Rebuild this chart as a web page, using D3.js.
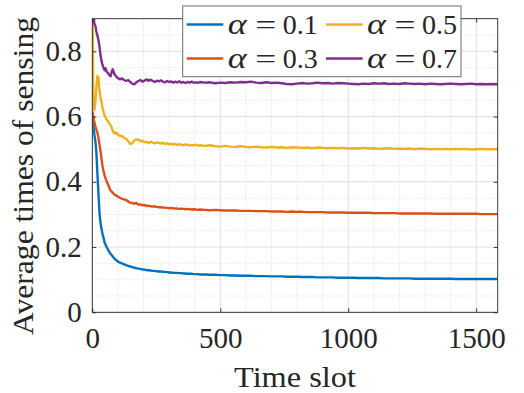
<!DOCTYPE html>
<html>
<head>
<meta charset="utf-8">
<script src="https://cdn.jsdelivr.net/npm/d3@7"></script>
<style>
  body { margin: 0; background: #fff; }
  svg { display: block; }
  text { font-family: "Liberation Serif", "DejaVu Serif", serif; fill: #262626; }
</style>
</head>
<body>
<div id="chart"></div>
<script>
// time slots where the curves were sampled (denser at the start)
var slots = [1].concat(d3.range(4, 101, 4), d3.range(108, 421, 8), d3.range(440, 1581, 20), [1584]);

var alpha01 = [
  0.60, 0.57, 0.545, 0.525, 0.49, 0.425, 0.365, 0.305, 0.275, 0.255,
  0.24, 0.228, 0.214, 0.207, 0.2, 0.194, 0.188, 0.183, 0.178, 0.175,
  0.171, 0.167, 0.164, 0.161, 0.158, 0.156,
  0.152, 0.15, 0.147, 0.145, 0.142, 0.141, 0.138, 0.137, 0.135, 0.134,
  0.133, 0.131, 0.131, 0.129, 0.129, 0.128, 0.127, 0.127, 0.126, 0.125,
  0.125, 0.124, 0.124, 0.123, 0.122, 0.122, 0.121, 0.121, 0.121, 0.12,
  0.12, 0.119, 0.119, 0.118, 0.118, 0.118, 0.117, 0.117, 0.117, 0.116,
  0.116, 0.115, 0.115, 0.114, 0.114, 0.113, 0.113, 0.112, 0.112, 0.112,
  0.111, 0.111, 0.111, 0.11, 0.11, 0.11, 0.109, 0.109, 0.109, 0.108,
  0.108, 0.108, 0.107, 0.107, 0.107, 0.107, 0.106, 0.106, 0.106, 0.106,
  0.105, 0.105, 0.105, 0.105, 0.105, 0.104, 0.104, 0.104, 0.104, 0.104,
  0.104, 0.103, 0.103, 0.103, 0.103, 0.103, 0.103, 0.103, 0.103, 0.102,
  0.102, 0.102, 0.102, 0.102, 0.102, 0.102, 0.102, 0.102, 0.102];

var alpha03 = [
  0.615, 0.6, 0.583, 0.57, 0.56, 0.55, 0.535, 0.515, 0.495, 0.47,
  0.448, 0.432, 0.42, 0.41, 0.402, 0.395, 0.387, 0.378, 0.373, 0.37,
  0.366, 0.363, 0.36, 0.359, 0.356, 0.355,
  0.351, 0.348, 0.346, 0.344, 0.34, 0.336, 0.335, 0.333, 0.335, 0.33,
  0.331, 0.328, 0.329, 0.326, 0.327, 0.325, 0.324, 0.325, 0.323, 0.322,
  0.322, 0.321, 0.321, 0.32, 0.319, 0.32, 0.319, 0.318, 0.318, 0.317,
  0.318, 0.317, 0.316, 0.317, 0.316, 0.315, 0.316, 0.315, 0.314, 0.315,
  0.314, 0.313, 0.314, 0.313, 0.312, 0.312, 0.312, 0.311, 0.311, 0.311,
  0.31, 0.31, 0.31, 0.309, 0.309, 0.309, 0.308, 0.309, 0.308, 0.308,
  0.307, 0.307, 0.307, 0.307, 0.306, 0.306, 0.306, 0.306, 0.305, 0.305,
  0.305, 0.305, 0.305, 0.304, 0.304, 0.304, 0.304, 0.304, 0.303, 0.303,
  0.303, 0.303, 0.303, 0.303, 0.303, 0.302, 0.302, 0.302, 0.302, 0.302,
  0.302, 0.302, 0.302, 0.302, 0.301, 0.301, 0.301, 0.301, 0.301];

var alpha05 = [
  0.95, 0.66, 0.62, 0.645, 0.69, 0.725, 0.72, 0.68, 0.66, 0.645,
  0.625, 0.615, 0.602, 0.598, 0.59, 0.588, 0.582, 0.578, 0.572, 0.566,
  0.556, 0.55, 0.552, 0.547, 0.55, 0.545,
  0.54, 0.541, 0.535, 0.532, 0.525, 0.516, 0.518, 0.527, 0.529, 0.53,
  0.524, 0.526, 0.521, 0.523, 0.519, 0.523, 0.52, 0.518, 0.521, 0.519,
  0.517, 0.52, 0.516, 0.518, 0.515, 0.517, 0.514, 0.516, 0.513, 0.515,
  0.514, 0.512, 0.515, 0.513, 0.511, 0.513, 0.512, 0.514, 0.511, 0.512,
  0.51, 0.512, 0.509, 0.508, 0.51, 0.508, 0.507, 0.509, 0.507, 0.506,
  0.508, 0.506, 0.505, 0.507, 0.505, 0.506, 0.504, 0.506, 0.505, 0.504,
  0.505, 0.503, 0.505, 0.504, 0.503, 0.504, 0.503, 0.504, 0.502, 0.503,
  0.502, 0.504, 0.502, 0.503, 0.501, 0.502, 0.503, 0.501, 0.502, 0.501,
  0.502, 0.5, 0.502, 0.501, 0.5, 0.501, 0.5, 0.501, 0.5, 0.501,
  0.5, 0.501, 0.499, 0.5, 0.501, 0.5, 0.5, 0.5, 0.5];

var alpha07 = [
  0.96, 0.92, 0.885, 0.878, 0.86, 0.848, 0.835, 0.815, 0.79, 0.77,
  0.758, 0.75, 0.742, 0.748, 0.738, 0.735, 0.73, 0.726, 0.724, 0.738,
  0.745, 0.736, 0.728, 0.725, 0.72, 0.718,
  0.714, 0.717, 0.712, 0.709, 0.712, 0.706, 0.701, 0.699, 0.705, 0.709,
  0.712, 0.707, 0.71, 0.714, 0.71, 0.713, 0.709, 0.706, 0.71, 0.708,
  0.711, 0.707, 0.705, 0.709, 0.706, 0.708, 0.704, 0.707, 0.705, 0.708,
  0.704, 0.706, 0.703, 0.706, 0.704, 0.707, 0.704, 0.705, 0.703, 0.706,
  0.704, 0.705, 0.702, 0.704, 0.703, 0.705, 0.704, 0.706, 0.705, 0.707,
  0.704, 0.703, 0.705, 0.703, 0.704, 0.702, 0.7, 0.699, 0.701, 0.703,
  0.701, 0.702, 0.704, 0.702, 0.703, 0.701, 0.703, 0.702, 0.701, 0.7,
  0.699, 0.701, 0.7, 0.702, 0.701, 0.702, 0.7, 0.701, 0.7, 0.702,
  0.701, 0.7, 0.701, 0.699, 0.701, 0.7, 0.699, 0.7, 0.701, 0.7,
  0.699, 0.7, 0.701, 0.699, 0.7, 0.699, 0.7, 0.699, 0.699];

var alphaLabels = ["0.1", "0.3", "0.5", "0.7"];
var xTicks = [0, 500, 1000, 1500];
var yTicks = [0, 0.2, 0.4, 0.6, 0.8];

var series = [alpha01, alpha03, alpha05, alpha07];
var colors = ["#0072BD", "#D95319", "#EDB120", "#7E2F8E"];

var W = 524, H = 393;
var pLeft = 92.3, pRight = 497.7, pTop = 18.7, pBottom = 312.3;

var svg = d3.select("#chart").append("svg")
    .attr("width", W)
    .attr("height", H);

var x = d3.scaleLinear().domain([0, 1584]).range([pLeft, pRight]);
var y = d3.scaleLinear().domain([0, 0.9]).range([pBottom, pTop]);

// grid, minor first
var minorX = d3.range(100, 1584, 100).filter(function(v) { return v % 500 != 0; });
var minorY = d3.range(0.05, 0.9, 0.05).filter(function(v) { return Math.abs(v * 5 - Math.round(v * 5)) > 0.01; });

var grid = svg.append("g");
grid.selectAll(".mx").data(minorX).enter().append("line")
    .attr("x1", function(d) { return x(d); }).attr("x2", function(d) { return x(d); })
    .attr("y1", pTop).attr("y2", pBottom)
    .attr("stroke", "#cfcfcf").attr("stroke-width", 0.8).attr("stroke-dasharray", "1,2");
grid.selectAll(".my").data(minorY).enter().append("line")
    .attr("y1", function(d) { return y(d); }).attr("y2", function(d) { return y(d); })
    .attr("x1", pLeft).attr("x2", pRight)
    .attr("stroke", "#cfcfcf").attr("stroke-width", 0.8).attr("stroke-dasharray", "1,2");
grid.selectAll(".gx").data(xTicks).enter().append("line")
    .attr("x1", function(d) { return x(d); }).attr("x2", function(d) { return x(d); })
    .attr("y1", pTop).attr("y2", pBottom)
    .attr("stroke", "#dfdfdf").attr("stroke-width", 1);
grid.selectAll(".gy").data(yTicks).enter().append("line")
    .attr("y1", function(d) { return y(d); }).attr("y2", function(d) { return y(d); })
    .attr("x1", pLeft).attr("x2", pRight)
    .attr("stroke", "#dfdfdf").attr("stroke-width", 1);

// curves
svg.append("clipPath").attr("id", "plotclip")
  .append("rect").attr("x", pLeft).attr("y", pTop).attr("width", pRight - pLeft).attr("height", pBottom - pTop);

var line = d3.line()
    .x(function(d, i) { return x(slots[i]); })
    .y(function(d) { return y(d); });

svg.append("g").attr("clip-path", "url(#plotclip)")
  .selectAll("path").data(series).enter().append("path")
    .attr("d", line)
    .attr("fill", "none")
    .attr("stroke", function(d, i) { return colors[i]; })
    .attr("stroke-width", 2.4)
    .attr("stroke-linejoin", "round");

// axes, ticks point inward
var axisBottom = d3.axisBottom(x).tickValues(xTicks).tickSizeInner(-4).tickSizeOuter(0).tickFormat(d3.format("d"));
var gxb = svg.append("g").attr("transform", "translate(0," + pBottom + ")").call(axisBottom);
gxb.selectAll("text").attr("y", 36).attr("dy", null);

var axisTop = d3.axisTop(x).tickValues(xTicks).tickSizeInner(-4).tickSizeOuter(0).tickFormat("");
svg.append("g").attr("transform", "translate(0," + pTop + ")").call(axisTop);

var axisLeft = d3.axisLeft(y).tickValues(yTicks).tickSizeInner(-4).tickSizeOuter(0)
    .tickFormat(function(d) { return d == 0 ? "0" : d3.format(".1f")(d); });
var gyl = svg.append("g").attr("transform", "translate(" + pLeft + ",0)").call(axisLeft);
gyl.selectAll("text").attr("x", -10.5).attr("dy", "0.31em");

var axisRight = d3.axisRight(y).tickValues(yTicks).tickSizeInner(-4).tickSizeOuter(0).tickFormat("");
svg.append("g").attr("transform", "translate(" + pRight + ",0)").call(axisRight);

svg.selectAll(".domain").remove();
svg.selectAll(".tick line").attr("stroke", "#262626").attr("stroke-width", 0.9);
svg.selectAll(".tick text").attr("font-size", 29).attr("fill", "#262626");

svg.append("rect")
    .attr("x", pLeft).attr("y", pTop).attr("width", pRight - pLeft).attr("height", pBottom - pTop)
    .attr("fill", "none").attr("stroke", "#262626").attr("stroke-width", 0.9);

// axis labels
svg.append("text")
    .attr("x", (pLeft + pRight) / 2).attr("y", 387)
    .attr("text-anchor", "middle").attr("font-size", 30)
    .attr("textLength", 122).attr("lengthAdjust", "spacingAndGlyphs")
    .text("Time slot");

svg.append("text")
    .attr("transform", "translate(33,176) rotate(-90)")
    .attr("text-anchor", "middle").attr("font-size", 30)
    .attr("textLength", 318).attr("lengthAdjust", "spacingAndGlyphs")
    .text("Average times of sensing");

// legend, two columns
var legend = svg.append("g");
legend.append("rect")
    .attr("x", 182.7).attr("y", 6).attr("width", 278.3).attr("height", 70.7)
    .attr("fill", "#fff").attr("stroke", "#6b6b6b").attr("stroke-width", 1);

var colX = [186.7, 186.7, 326, 326];
var rowY = [24.5, 58.5, 24.5, 58.5];

var item = legend.selectAll(".item").data(alphaLabels).enter().append("g")
    .attr("transform", function(d, i) { return "translate(" + colX[i] + "," + rowY[i] + ")"; });
item.append("line")
    .attr("x1", 0).attr("x2", 36.6).attr("y1", 0).attr("y2", 0)
    .attr("stroke", function(d, i) { return colors[i]; }).attr("stroke-width", 2.4);
item.append("text")
    .attr("x", 41).attr("y", 9.5).attr("font-size", 30).attr("font-style", "italic")
    .attr("font-family", "DejaVu Serif")
    .attr("textLength", 19).attr("lengthAdjust", "spacingAndGlyphs")
    .text("α");
item.append("text")
    .attr("x", 79).attr("y", 9.5).attr("font-size", 28).attr("text-anchor", "middle")
    .attr("textLength", 21).attr("lengthAdjust", "spacingAndGlyphs")
    .text("=");
item.append("text")
    .attr("x", 96).attr("y", 9.5).attr("font-size", 28)
    .text(function(d) { return d; });
</script>
</body>
</html>
